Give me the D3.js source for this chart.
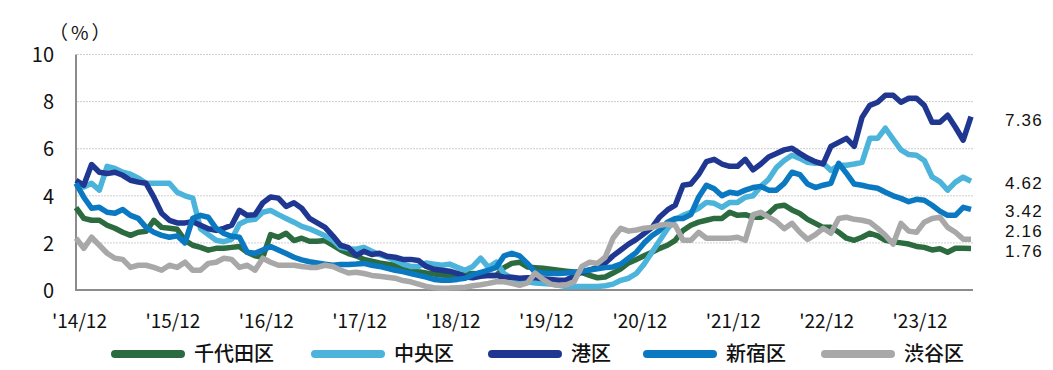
<!DOCTYPE html>
<html><head><meta charset="utf-8">
<script src="https://cdn.jsdelivr.net/npm/d3@7"></script>
<style>
html,body{margin:0;padding:0;background:#fff;}
svg{display:block;}
text{font-family:"Noto Sans CJK JP","Noto Sans",sans-serif;fill:#111;}
</style></head>
<body>
<svg id="chart" width="1053" height="370"></svg>
<script>
// ---- data (monthly, Dec 2014 – Jul 2024) ----
const seriesNames = ["千代田区","中央区","港区","新宿区","渋谷区"];
const seriesColors = ["#2b6b3f","#4cb4da","#1f3790","#0a79c1","#a8a8a8"];
const tickLabels = ["'14/12","'15/12","'16/12","'17/12","'18/12","'19/12","'20/12","'21/12","'22/12","'23/12"];
const endLabels = ["1.76","4.62","7.36","3.42","2.16"];

const chiyoda = [3.5,3.04,2.96,2.96,2.75,2.62,2.45,2.32,2.45,2.49,2.96,2.66,2.62,2.58,2.11,1.9,1.81,1.69,1.77,1.77,
1.81,1.85,1.6,1.45,1.39,2.35,2.24,2.41,2.1,2.2,2.07,2.07,2.1,1.9,1.7,1.55,1.45,1.3,1.22,1.15,
1.1,1.05,0.95,0.85,0.78,0.72,0.68,0.64,0.62,0.65,0.68,0.7,0.68,0.62,0.62,0.95,1.13,1.18,0.98,0.95,
0.92,0.88,0.84,0.8,0.76,0.75,0.62,0.52,0.55,0.72,0.9,1.15,1.3,1.45,1.6,1.77,1.9,2.11,2.53,2.75,
2.88,2.96,3.04,3.04,3.3,3.17,3.2,3.09,3.09,3.25,3.55,3.6,3.4,3.25,3.0,2.83,2.66,2.66,2.45,2.2,
2.11,2.24,2.41,2.3,2.11,2.05,2.0,1.95,1.85,1.81,1.7,1.75,1.6,1.77,1.77,1.76];

const chuo = [4.58,4.37,4.53,4.24,5.25,5.16,5.0,4.92,4.75,4.53,4.53,4.53,4.53,4.15,4.0,3.9,2.6,2.35,2.11,2.05,
2.15,2.8,2.96,3.0,3.3,3.38,3.2,3.04,2.88,2.7,2.6,2.45,2.3,2.11,1.81,1.75,1.73,1.81,1.65,1.5,
1.39,1.26,1.1,1.0,1.0,1.15,1.1,1.05,1.1,0.96,0.84,1.0,1.35,0.96,1.18,0.7,0.5,0.41,0.35,0.3,
0.28,0.25,0.2,0.15,0.15,0.15,0.15,0.15,0.18,0.25,0.41,0.5,0.7,1.1,1.6,2.1,2.6,3.0,3.17,3.3,
3.47,3.72,3.68,3.51,3.72,3.72,3.94,4.0,4.4,4.7,5.2,5.5,5.72,5.59,5.42,5.38,5.38,5.08,5.3,5.3,
5.35,5.42,6.44,6.44,6.87,6.4,5.95,5.75,5.72,5.5,4.8,4.6,4.24,4.58,4.79,4.62];

const minato = [4.66,4.45,5.33,5.0,4.95,5.0,4.87,4.66,4.58,4.53,3.94,3.26,2.96,2.85,2.85,2.9,2.75,2.6,2.53,2.62,
2.75,3.38,3.17,3.2,3.7,3.95,3.9,3.55,3.7,3.47,3.04,2.85,2.66,2.3,1.9,1.8,1.47,1.64,1.51,1.56,
1.43,1.39,1.3,1.3,1.25,1.0,0.88,0.84,0.8,0.71,0.55,0.52,0.58,0.62,0.62,0.54,0.54,0.5,0.52,0.52,
0.48,0.45,0.41,0.43,0.6,0.75,0.85,0.95,1.15,1.45,1.7,1.95,2.15,2.4,2.65,3.1,3.4,3.6,4.45,4.5,
4.9,5.45,5.55,5.35,5.25,5.25,5.55,5.1,5.35,5.65,5.8,5.95,6.02,5.8,5.6,5.45,5.35,6.1,6.27,6.44,
6.1,7.33,7.84,7.97,8.27,8.27,7.97,8.14,8.14,7.84,7.12,7.12,7.42,6.91,6.36,7.36];

const shinjuku = [4.53,3.94,3.47,3.51,3.3,3.26,3.42,3.17,3.04,2.66,2.45,2.32,2.24,2.3,2.0,3.04,3.17,3.09,2.62,2.4,
2.28,2.24,1.6,1.56,1.7,1.85,1.7,1.55,1.39,1.28,1.2,1.15,1.1,1.05,1.08,1.08,1.1,1.13,1.05,1.0,
0.92,0.84,0.78,0.7,0.62,0.55,0.45,0.41,0.41,0.45,0.5,0.65,0.75,0.84,0.96,1.45,1.56,1.45,1.13,0.75,
0.72,0.7,0.7,0.72,0.75,0.8,0.85,0.9,0.95,0.98,1.1,1.35,1.6,2.0,2.3,2.53,2.88,3.04,3.04,3.2,
3.94,4.45,4.3,4.0,4.15,4.1,4.24,4.35,4.4,4.24,4.24,4.53,5.0,4.9,4.5,4.35,4.45,4.53,5.38,4.95,
4.5,4.45,4.37,4.32,4.15,4.0,3.89,3.75,3.85,3.81,3.6,3.35,3.17,3.17,3.51,3.42];

const shibuya = [2.2,1.77,2.24,1.9,1.56,1.35,1.3,0.96,1.05,1.05,0.96,0.84,1.05,0.96,1.18,0.84,0.84,1.13,1.18,1.35,
1.3,0.96,1.05,0.84,1.35,1.18,1.05,1.05,1.05,1.0,0.96,0.96,1.05,1.0,0.85,0.72,0.75,0.7,0.62,0.58,
0.54,0.5,0.4,0.35,0.25,0.15,0.1,0.07,0.08,0.1,0.12,0.18,0.22,0.28,0.35,0.35,0.28,0.2,0.3,0.72,
0.45,0.25,0.2,0.22,0.35,1.0,1.18,1.13,1.39,2.2,2.62,2.5,2.55,2.62,2.66,2.75,2.79,2.75,2.11,2.11,
2.45,2.2,2.2,2.2,2.2,2.24,2.11,3.2,3.3,3.1,2.9,2.6,2.83,2.45,2.15,2.35,2.62,2.41,3.04,3.09,
3.0,2.96,2.88,2.62,2.32,1.95,2.83,2.5,2.45,2.88,3.04,3.09,2.66,2.45,2.16,2.16];

const allSeries = [chiyoda, chuo, minato, shinjuku, shibuya];
const months = d3.range(chiyoda.length); // month index from Dec 2014
const tickIdx = tickLabels.map((d,i)=>i*12);
const yTicks = [0,2,4,6,8,10];

// ---- layout ----
const svg = d3.select("#chart");
const x = d3.scaleLinear().domain([0, months.length-1]).range([76, 971]);
const y = d3.scaleLinear().domain([0, 10]).range([290, 54.5]);

// gridlines
svg.append("g").selectAll("line").data(yTicks.filter(d=>d>0)).join("line")
  .attr("x1", 77).attr("x2", 973)
  .attr("y1", d=>y(d)).attr("y2", d=>y(d))
  .attr("stroke", "#cfcfcf").attr("stroke-width", 1).attr("stroke-dasharray", "2,1");

// y axis
const yAxis = svg.append("g").attr("transform","translate(76,0)")
  .call(d3.axisLeft(y).tickValues(yTicks).tickSize(0).tickPadding(22).tickFormat(d3.format("d")));
yAxis.select(".domain").remove();
yAxis.selectAll("text").style("font-size","20px").attr("dy","0.36em").style("font-family","\"Noto Sans CJK JP\",sans-serif");

// x axis
const xAxis = svg.append("g").attr("transform","translate(3,290)")
  .call(d3.axisBottom(x).tickValues(tickIdx).tickSize(0).tickPadding(25).tickFormat((d,i)=>tickLabels[i]));
xAxis.select(".domain").remove();
xAxis.selectAll("text").style("font-size","19px").style("font-family","\"Noto Sans CJK JP\",sans-serif");

// axis lines
svg.append("line").attr("x1",76).attr("x2",76).attr("y1",y(10)).attr("y2",291)
  .attr("stroke","#8c8c8c").attr("stroke-width",2);
svg.append("line").attr("x1",75).attr("x2",973).attr("y1",290).attr("y2",290)
  .attr("stroke","#8c8c8c").attr("stroke-width",2);

// lines
const line = d3.line().x((d,i)=>x(i)).y(d=>y(d));
svg.append("g").selectAll("path").data(allSeries).join("path")
  .attr("d", d=>line(d))
  .attr("fill","none")
  .attr("stroke",(d,i)=>seriesColors[i])
  .attr("stroke-width",5.5)
  .attr("stroke-linejoin","round");

// end labels
const endY = [251, 183, 119.5, 211, 230.5];
svg.append("g").selectAll("text").data(endLabels).join("text")
  .attr("x", 1005).attr("y",(d,i)=>endY[i]).attr("dy","0.36em")
  .style("font-family","\"Liberation Sans\",Arial,sans-serif")
  .style("font-size","17px").style("letter-spacing","1.2px")
  .text(d=>d);

// unit label
svg.append("text").attr("x",49).attr("y",33).attr("dy","0.36em")
  .style("font-size","19px").style("letter-spacing","3px").text("（%）");

// legend
const legX = [111, 311, 488, 643, 821];
const lg = svg.append("g").selectAll("g").data(seriesNames).join("g")
  .attr("transform",(d,i)=>`translate(${legX[i]},354)`);
lg.append("line").attr("x1",4).attr("x2",70).attr("y1",0).attr("y2",0)
  .attr("stroke",(d,i)=>seriesColors[i]).attr("stroke-width",8).attr("stroke-linecap","round");
lg.append("text").attr("x",83).attr("y",0).attr("dy","0.36em")
  .style("font-size","20px").style("font-weight","500").text(d=>d);
</script>
</body></html>
